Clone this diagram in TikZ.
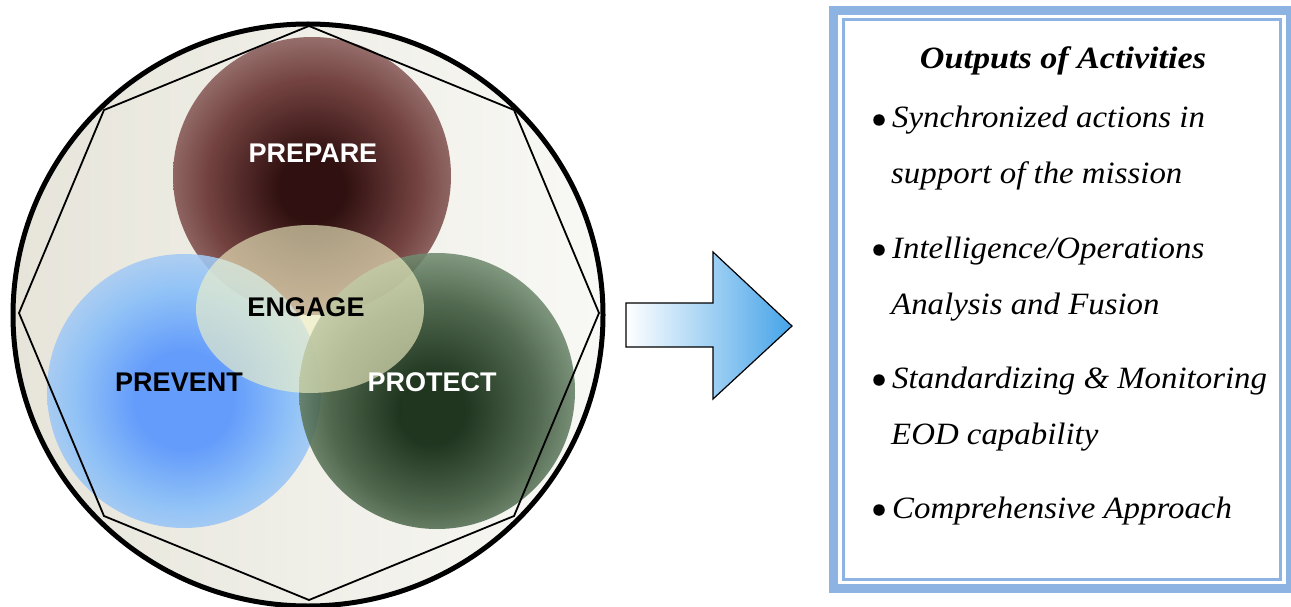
\documentclass[tikz,border=0pt]{standalone}
\usepackage{fontspec}
\setmainfont{Liberation Serif}
\newfontfamily\arialfont{Liberation Sans}
\newfontfamily\itemfont[FakeStretch=1.06]{Liberation Serif}
\newfontfamily\titlefont[FakeStretch=1.1]{Liberation Serif}

\definecolor{bgL}{HTML}{E7E5DA}
\definecolor{bgR}{HTML}{F8F8F5}
\definecolor{prepA}{HTML}{220000}
\definecolor{prepB}{HTML}{6A3634}
\definecolor{prepC}{HTML}{9C7572}
\definecolor{prevA}{HTML}{5292FF}
\definecolor{prevB}{HTML}{86BEFA}
\definecolor{prevC}{HTML}{BED4EF}
\definecolor{protA}{HTML}{031C03}
\definecolor{protB}{HTML}{3C573B}
\definecolor{protC}{HTML}{7D977C}
\definecolor{engageC}{HTML}{F3F3C6}
\definecolor{boxblue}{HTML}{8DB3E2}
\definecolor{arrowblue}{HTML}{45A3E8}

\pgfdeclareradialshading{prepshade}{\pgfpoint{0bp}{-2.5bp}}{color(0bp)=(prepA); color(6bp)=(prepA); color(19bp)=(prepB); color(29bp)=(prepC); color(60bp)=(prepC)}
\pgfdeclareradialshading{prevshade}{\pgfpoint{0bp}{-2bp}}{color(0bp)=(prevA); color(9bp)=(prevA); color(20bp)=(prevB); color(31bp)=(prevC); color(60bp)=(prevC)}
\pgfdeclareradialshading{protshade}{\pgfpoint{-1bp}{-4bp}}{color(0bp)=(protA); color(6bp)=(protA); color(19bp)=(protB); color(29bp)=(protC); color(60bp)=(protC)}

\tikzset{
  vennlabel/.style={font=\arialfont\bfseries\fontsize{27}{27}\selectfont, anchor=base, inner sep=0pt},
  itemtext/.style={font=\itemfont\itshape\fontsize{31}{31}\selectfont, anchor=base west, inner sep=0pt},
  bulletdot/.style={circle, fill=black, inner sep=0pt, minimum size=11.5pt},
  octline/.style={draw=black, line width=1.8pt, line join=miter},
}

\begin{document}
\begin{tikzpicture}[x=1pt, y=-1pt]
\useasboundingbox (0,0) rectangle (1291,607);

% outer disc background
\shade[left color=bgL, right color=bgR] (308,315) ellipse [x radius=295, y radius=291];

% three circles
\shade[shading=prepshade, opacity=0.93] (312,176) circle (139);
\shade[shading=prevshade, opacity=0.88] (184,391) circle (137);
\shade[shading=protshade, opacity=0.88] (437,391) circle (138);

% engage ellipse
\fill[engageC, opacity=0.62] (310,309) ellipse [x radius=114, y radius=84];

% octagon
\draw[octline] (309,26) -- (514,110) -- (599,313) -- (514,516) -- (309,600) -- (104,516) -- (19,313) -- (104,110) -- cycle;

% outer circle
\draw[line width=5pt] (308,315) ellipse [x radius=295, y radius=291];

% labels
\node[vennlabel, text=white] (prepare) at (313,163) {PREPARE};
\node[vennlabel, text=black] (engage) at (306,316) {ENGAGE};
\node[vennlabel, text=black] (prevent) at (179,391) {PREVENT};
\node[vennlabel, text=white] (protect) at (432,391) {PROTECT};

% arrow
\shade[left color=white, right color=arrowblue, draw=black, line width=1.2pt, line join=miter]
  (626,303) -- (713,303) -- (713,252) -- (792,326) -- (713,399) -- (713,347) -- (626,347) -- cycle;

% box
\draw[boxblue, line width=9pt] (833.5,10.5) rectangle (1290.5,588.5);
\draw[boxblue, line width=3pt] (843.5,20) rectangle (1280.5,579);

% title
\node[font=\titlefont\bfseries\itshape\fontsize{31}{31}\selectfont, anchor=base, inner sep=0pt] (title) at (1063,69) {Outputs of Activities};

% bullets and items
\node[bulletdot] (b1) at (879,120) {};
\node[itemtext] (i1a) at (892,128) {Synchronized actions in};
\node[itemtext] (i1b) at (891,184) {support of the mission};

\node[bulletdot] (b2) at (879,250) {};
\node[itemtext] (i2a) at (892,258) {Intelligence/Operations};
\node[itemtext] (i2b) at (891,314) {Analysis and Fusion};

\node[bulletdot] (b3) at (879,380) {};
\node[itemtext] (i3a) at (892,388) {Standardizing \& Monitoring};
\node[itemtext] (i3b) at (891,444) {EOD capability};

\node[bulletdot] (b4) at (879,510) {};
\node[itemtext] (i4a) at (892,518) {Comprehensive Approach};
\end{tikzpicture}
\end{document}
